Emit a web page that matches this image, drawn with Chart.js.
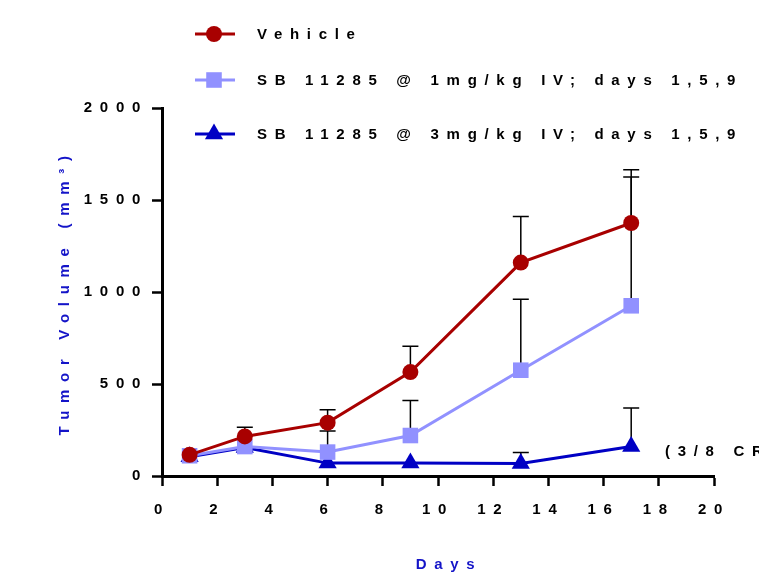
<!DOCTYPE html>
<html>
<head>
<meta charset="utf-8">
<script src="https://cdn.jsdelivr.net/npm/chart.js@4.4.1/dist/chart.umd.min.js"></script>
<style>
  html, body { margin: 0; padding: 0; background: #fff; }
  #wrap { width: 759px; height: 587px; }
</style>
</head>
<body>
<div id="wrap"><canvas id="chart-1"></canvas></div>
<script>
const days = [1, 3, 6, 9, 13, 17];
const xTicks = [0, 2, 4, 6, 8, 10, 12, 14, 16, 18, 20];
const yTicks = [0, 500, 1000, 1500, 2000];
const labels = ["Vehicle", "SB 11285 @ 1mg/kg IV; days 1,5,9", "SB 11285 @ 3mg/kg IV; days 1,5,9"];

const vehicle = [115, 215, 290, 565, 1160, 1375];
const vehicleErr = [0, 50, 70, 140, 250, 290];
const sb1 = [110, 160, 130, 220, 575, 925];
const sb1Err = [0, 0, 115, 190, 385, 700];
const sb3 = [105, 155, 70, 70, 68, 160];
const sb3Err = [0, 0, 0, 0, 60, 210];

const FONT = '"Liberation Sans", Arial, sans-serif';
const SPACING = "7.7px";
const TXT = { family: FONT, size: 15, weight: "bold" };

function pts(vals) {
  return days.map((d, i) => ({ x: d, y: vals[i] }));
}

const spacingPlugin = {
  id: "spacing",
  beforeDraw(chart) { chart.ctx.letterSpacing = SPACING; },
};

const errorBars = {
  id: "errorBars",
  beforeDatasetsDraw(chart) {
    const { ctx, scales: { x, y } } = chart;
    ctx.save();
    ctx.strokeStyle = "#000";
    ctx.lineWidth = 1.5;
    chart.data.datasets.forEach(ds => {
      ds.data.forEach((p, i) => {
        const e = ds.err[i];
        if (!e) return;
        const px = x.getPixelForValue(p.x);
        const y0 = y.getPixelForValue(p.y);
        const y1 = y.getPixelForValue(p.y + e);
        ctx.beginPath();
        ctx.moveTo(px, y0);
        ctx.lineTo(px, y1);
        ctx.moveTo(px - 8, y1);
        ctx.lineTo(px + 8, y1);
        ctx.stroke();
      });
    });
    ctx.restore();
  },
};

const legendAndNotes = {
  id: "legendAndNotes",
  afterDraw(chart) {
    const ctx = chart.ctx;
    const rows = [34, 80, 134];
    ctx.save();
    ctx.letterSpacing = SPACING;
    ctx.font = "bold 15px " + FONT;
    ctx.textBaseline = "middle";
    chart.data.datasets.forEach((ds, i) => {
      const yy = rows[i];
      ctx.strokeStyle = ds.borderColor;
      ctx.lineWidth = 3;
      ctx.beginPath();
      ctx.moveTo(195, yy);
      ctx.lineTo(235, yy);
      ctx.stroke();
      ctx.fillStyle = ds.backgroundColor;
      Chart.helpers.drawPoint(ctx, {
        pointStyle: ds.pointStyle, radius: ds.pointRadius, rotation: 0, borderWidth: 0
      }, 214, yy);
      ctx.fillStyle = "#000";
      ctx.textAlign = "left";
      ctx.fillText(ds.label, 257, yy + 1);
    });
    ctx.fillText("(3/8 CR)", 665, 452);
    // x axis title
    const { left, right } = chart.chartArea;
    ctx.fillStyle = "#1414C8";
    ctx.textAlign = "center";
    ctx.fillText("Days", (left + right) / 2 + 11, 565);
    ctx.restore();
  },
};

const ctx1 = document.getElementById("chart-1").getContext("2d");
const myChart = new Chart(ctx1, {
  type: "line",
  data: {
    datasets: [
      {
        label: labels[0],
        data: pts(vehicle),
        err: vehicleErr,
        borderColor: "#A80000",
        backgroundColor: "#A80000",
        borderWidth: 3,
        pointStyle: "circle",
        pointRadius: 8,
        pointBorderWidth: 0,
      },
      {
        label: labels[1],
        data: pts(sb1),
        err: sb1Err,
        borderColor: "#9191FF",
        backgroundColor: "#9191FF",
        borderWidth: 3,
        pointStyle: "rect",
        pointRadius: 11,
        pointBorderWidth: 0,
      },
      {
        label: labels[2],
        data: pts(sb3),
        err: sb3Err,
        borderColor: "#0000C4",
        backgroundColor: "#0000C4",
        borderWidth: 3,
        pointStyle: "triangle",
        pointRadius: 10.5,
        pointBorderWidth: 0,
      },
    ],
  },
  options: {
    responsive: true,
    maintainAspectRatio: false,
    animation: false,
    layout: { padding: { left: 0, top: 108, right: 45, bottom: 0 } },
    plugins: { legend: { display: false }, tooltip: { enabled: false } },
    scales: {
      x: {
        type: "linear",
        min: 0,
        max: 20,
        afterBuildTicks: s => { s.ticks = xTicks.map(v => ({ value: v })); },
        afterFit: s => { s.height = 111; },
        ticks: { autoSkip: false, maxRotation: 0, padding: 15, color: "#000", font: TXT,
                 callback: v => String(v) },
        grid: { drawOnChartArea: false, tickLength: 10, tickWidth: 2.5, tickColor: "#000" },
        border: { color: "#000", width: 3 },
        title: { display: false },
      },
      y: {
        min: 0,
        max: 2000,
        afterBuildTicks: s => { s.ticks = yTicks.map(v => ({ value: v })); },
        afterFit: s => { s.width = 162; },
        ticks: { padding: 4, color: "#000", font: TXT, callback: v => String(v) },
        grid: { drawOnChartArea: false, tickLength: 10, tickWidth: 2.5, tickColor: "#000" },
        border: { color: "#000", width: 3 },
        title: { display: true, text: "Tumor Volume (mm³)", color: "#1414C8", padding: { top: 56, bottom: 0 },
                 font: TXT },
      },
    },
  },
  plugins: [spacingPlugin, errorBars, legendAndNotes],
});
</script>
</body>
</html>
